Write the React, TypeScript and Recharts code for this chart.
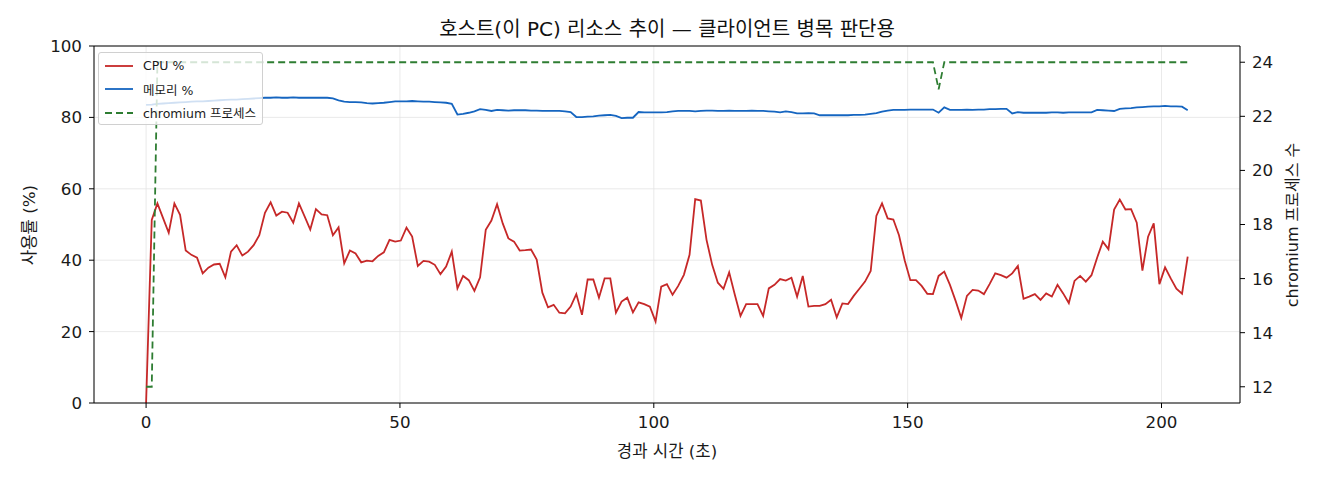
import {
  ComposedChart,
  Line,
  XAxis,
  YAxis,
  CartesianGrid,
  ReferenceLine,
} from 'recharts'

// sampling period of the host monitor (seconds between samples)
const SAMPLE_SEC = 1.115

const cpuPct = [
  0, 51.3, 55.9, 51.8, 47.7, 55.9, 52.7, 42.7, 41.5, 40.7,
  36.3, 37.9, 38.8, 39.0, 35.2, 42.4, 44.2, 41.3, 42.4, 44.2,
  47.0, 53.3, 56.2, 52.5, 53.6, 53.3, 50.5, 55.9, 52.3, 48.6,
  54.3, 52.8, 52.6, 47.0, 49.2, 39.1, 42.7, 41.9, 39.4, 39.9,
  39.7, 41.2, 42.2, 45.7, 45.2, 45.5, 49.1, 46.6, 38.4, 39.8,
  39.6, 38.7, 36.1, 38.2, 42.4, 32.1, 35.6, 34.4, 31.4, 35.2,
  48.5, 51.1, 55.7, 50.3, 46.1, 45.2, 42.7, 42.8, 43.0, 40.2,
  30.9, 26.8, 27.5, 25.3, 25.1, 27.0, 30.5, 24.7, 34.6, 34.6,
  29.5, 34.9, 34.9, 25.3, 28.4, 29.5, 25.4, 28.2, 27.7, 27.0,
  22.8, 32.6, 33.3, 30.3, 32.8, 35.9, 41.5, 57.1, 56.7, 45.7,
  38.7, 33.7, 32.0, 36.6, 30.3, 24.4, 27.7, 27.7, 27.7, 24.4,
  32.1, 33.1, 34.7, 34.3, 35.1, 29.8, 35.6, 27.0, 27.2, 27.2,
  27.7, 28.9, 24.0, 27.9, 27.7, 30.0, 32.0, 34.0, 37.0, 52.4,
  55.9, 51.7, 51.4, 47.0, 40.0, 34.4, 34.4, 32.8, 30.6, 30.5,
  35.6, 36.8, 33.1, 28.6, 23.8, 30.0, 31.7, 31.5, 30.5, 33.3,
  36.3, 35.8, 35.1, 36.3, 38.4, 29.2, 29.8, 30.5, 28.9, 30.7,
  29.8, 33.1, 30.7, 28.0, 34.2, 35.6, 34.0, 35.8, 40.7, 45.2,
  43.1, 54.2, 57.0, 54.2, 54.3, 50.5, 37.1, 46.6, 50.3, 33.3,
  38.0, 34.9, 32.0, 30.6, 41.0,
]

const memPct = [
  83.5, 83.6, 83.8, 83.9, 84.0, 84.1, 84.2, 84.3, 84.4, 84.5,
  84.5, 84.6, 84.7, 84.8, 84.9, 85.0, 85.0, 85.1, 85.2, 85.3,
  85.4, 85.5, 85.5, 85.6, 85.5, 85.5, 85.6, 85.5, 85.5, 85.5,
  85.5, 85.5, 85.5, 85.3, 84.8, 84.4, 84.3, 84.3, 84.2, 84.0,
  83.9, 84.0, 84.1, 84.3, 84.5, 84.5, 84.5, 84.6, 84.5, 84.4,
  84.4, 84.3, 84.2, 84.1, 83.8, 80.8, 81.0, 81.3, 81.7, 82.3,
  82.1, 81.8, 82.1, 82.0, 81.9, 82.0, 82.0, 82.0, 81.9, 81.9,
  81.8, 81.8, 81.8, 81.8, 81.7, 81.5, 80.1, 80.1, 80.2, 80.3,
  80.5, 80.6, 80.7, 80.4, 79.8, 79.9, 79.9, 81.5, 81.4, 81.4,
  81.4, 81.4, 81.5, 81.7, 81.8, 81.8, 81.8, 81.7, 81.8, 81.9,
  81.9, 81.8, 81.8, 81.9, 81.8, 81.8, 81.8, 81.9, 81.8, 81.8,
  81.7, 81.6, 81.4, 81.7, 81.5, 81.1, 81.1, 81.2, 81.1, 80.6,
  80.6, 80.6, 80.6, 80.6, 80.6, 80.7, 80.7, 80.8, 81.0, 81.2,
  81.6, 81.9, 82.1, 82.1, 82.1, 82.2, 82.2, 82.2, 82.2, 82.2,
  81.3, 82.8, 82.1, 82.1, 82.1, 82.2, 82.1, 82.2, 82.2, 82.3,
  82.3, 82.4, 82.4, 81.1, 81.5, 81.3, 81.3, 81.3, 81.3, 81.3,
  81.4, 81.4, 81.3, 81.4, 81.4, 81.4, 81.4, 81.4, 82.1, 82.0,
  81.9, 81.8, 82.4, 82.5, 82.6, 82.8, 82.9, 83.0, 83.1, 83.1,
  83.2, 83.1, 83.1, 83.0, 82.0,
]

const chromiumProcs = [
  12, 12, 24, 24, 24, 24, 24, 24, 24, 24,
  24, 24, 24, 24, 24, 24, 24, 24, 24, 24,
  24, 24, 24, 24, 24, 24, 24, 24, 24, 24,
  24, 24, 24, 24, 24, 24, 24, 24, 24, 24,
  24, 24, 24, 24, 24, 24, 24, 24, 24, 24,
  24, 24, 24, 24, 24, 24, 24, 24, 24, 24,
  24, 24, 24, 24, 24, 24, 24, 24, 24, 24,
  24, 24, 24, 24, 24, 24, 24, 24, 24, 24,
  24, 24, 24, 24, 24, 24, 24, 24, 24, 24,
  24, 24, 24, 24, 24, 24, 24, 24, 24, 24,
  24, 24, 24, 24, 24, 24, 24, 24, 24, 24,
  24, 24, 24, 24, 24, 24, 24, 24, 24, 24,
  24, 24, 24, 24, 24, 24, 24, 24, 24, 24,
  24, 24, 24, 24, 24, 24, 24, 24, 24, 24,
  23, 24, 24, 24, 24, 24, 24, 24, 24, 24,
  24, 24, 24, 24, 24, 24, 24, 24, 24, 24,
  24, 24, 24, 24, 24, 24, 24, 24, 24, 24,
  24, 24, 24, 24, 24, 24, 24, 24, 24, 24,
  24, 24, 24, 24, 24,
]

const xTicks = [0, 50, 100, 150, 200]
const pctTicks = [0, 20, 40, 60, 80, 100]
const procTicks = [12, 14, 16, 18, 20, 22, 24]

const TITLE = '호스트(이 PC) 리소스 추이 — 클라이언트 병목 판단용'
const X_LABEL = '경과 시간 (초)'
const Y_LABEL = '사용률 (%)'
const Y2_LABEL = 'chromium 프로세스 수'

const CPU_COLOR = '#c62828'
const MEM_COLOR = '#1565c0'
const PROC_COLOR = '#2e7d32'

// latin glyphs from DejaVu, hangul falls through to Noto CJK
const FONT = '"DejaVu Sans", "Noto Sans CJK KR", sans-serif'

const rows = cpuPct.map((cpu, i) => ({
  t: i * SAMPLE_SEC,
  cpu,
  mem: memPct[i],
  chromium: chromiumProcs[i],
}))

const legendItems = [
  { label: 'CPU %', color: CPU_COLOR, dashed: false },
  { label: '메모리 %', color: MEM_COLOR, dashed: false },
  { label: 'chromium 프로세스', color: PROC_COLOR, dashed: true },
]

const tickStyle = { fontSize: 16.7, fill: '#1a1a1a', fontFamily: FONT }

function ChartLegend() {
  return (
    <div
      style={{
        position: 'absolute',
        left: 98,
        top: 52,
        width: 165,
        height: 73,
        boxSizing: 'border-box',
        border: '1px solid #d0d0d0',
        borderRadius: 3,
        background: 'rgba(255,255,255,0.8)',
        padding: '1px 0 0 6px',
        fontSize: 12.5,
        color: '#1a1a1a',
      }}
    >
      {legendItems.map((item) => (
        <div
          key={item.label}
          style={{ display: 'flex', alignItems: 'center', height: 23.5 }}
        >
          <svg width={28} height={4} style={{ marginRight: 10 }}>
            <line
              x1={0}
              y1={2}
              x2={28}
              y2={2}
              stroke={item.color}
              strokeWidth={1.8}
              strokeDasharray={item.dashed ? '7 4' : undefined}
            />
          </svg>
          <span>{item.label}</span>
        </div>
      ))}
    </div>
  )
}

export default function App() {
  return (
    <div
      style={{
        position: 'absolute',
        left: 0,
        top: 0,
        width: 1320,
        height: 480,
        background: '#fff',
        fontFamily: FONT,
      }}
    >
      <ComposedChart
        width={1320}
        height={480}
        data={rows}
        margin={{ top: 46, right: 0, bottom: 47, left: 0 }}
      >
        <CartesianGrid yAxisId="left" stroke="#e4e4e4" strokeWidth={0.8} />
        <XAxis
          dataKey="t"
          type="number"
          domain={[-10.26, 215.46]}
          ticks={xTicks}
          allowDataOverflow
          height={30}
          tick={tickStyle}
          tickSize={5}
          tickMargin={8}
          stroke="#000"
          interval={0}
        />
        <YAxis
          yAxisId="left"
          width={94}
          domain={[0, 100]}
          ticks={pctTicks}
          tick={tickStyle}
          tickSize={5}
          tickMargin={7}
          stroke="#000"
          interval={0}
        />
        <YAxis
          yAxisId="right"
          orientation="right"
          width={80}
          domain={[11.4, 24.6]}
          ticks={procTicks}
          tick={tickStyle}
          tickSize={5}
          tickMargin={7}
          stroke="#000"
          interval={0}
        />
        <ReferenceLine yAxisId="left" y={100} stroke="#000" strokeWidth={1} />
        <Line
          yAxisId="left"
          dataKey="cpu"
          type="linear"
          stroke={CPU_COLOR}
          strokeWidth={1.8}
          dot={false}
          isAnimationActive={false}
        />
        <Line
          yAxisId="left"
          dataKey="mem"
          type="linear"
          stroke={MEM_COLOR}
          strokeWidth={1.8}
          dot={false}
          isAnimationActive={false}
        />
        <Line
          yAxisId="right"
          dataKey="chromium"
          type="linear"
          stroke={PROC_COLOR}
          strokeWidth={1.8}
          strokeDasharray="7 4"
          dot={false}
          isAnimationActive={false}
        />
      </ComposedChart>

      <div
        style={{
          position: 'absolute',
          left: 94,
          width: 1146,
          top: 15,
          textAlign: 'center',
          fontSize: 20,
          lineHeight: '28px',
          color: '#111',
        }}
      >
        {TITLE}
      </div>
      <div
        style={{
          position: 'absolute',
          left: 94,
          width: 1146,
          top: 438,
          textAlign: 'center',
          fontSize: 16.7,
          lineHeight: '26px',
          color: '#1a1a1a',
        }}
      >
        {X_LABEL}
      </div>
      <div
        style={{
          position: 'absolute',
          left: 28,
          top: 225,
          transform: 'translate(-50%, -50%) rotate(-90deg)',
          whiteSpace: 'nowrap',
          fontSize: 16.7,
          color: '#1a1a1a',
        }}
      >
        {Y_LABEL}
      </div>
      <div
        style={{
          position: 'absolute',
          left: 1291,
          top: 225,
          transform: 'translate(-50%, -50%) rotate(-90deg)',
          whiteSpace: 'nowrap',
          fontSize: 16,
          color: '#1a1a1a',
        }}
      >
        {Y2_LABEL}
      </div>
      <ChartLegend />
    </div>
  )
}
